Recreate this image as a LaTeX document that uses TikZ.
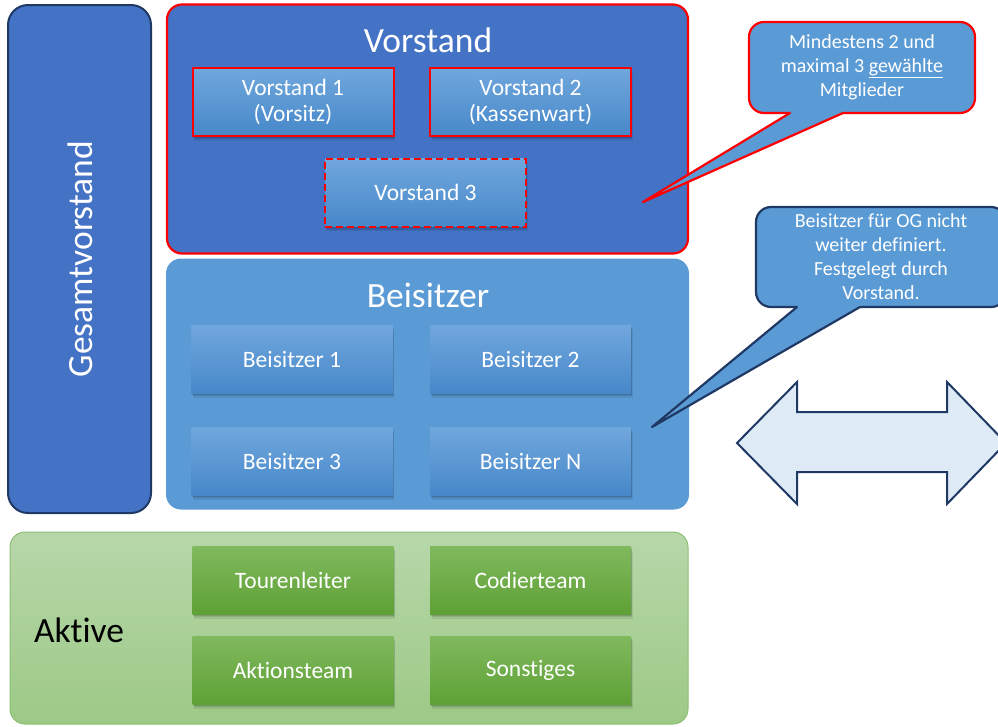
\documentclass[tikz,border=0pt]{standalone}
\usepackage{fontspec}
\setmainfont{Carlito}[Ligatures=NoCommon]
\definecolor{gvfill}{HTML}{4472C4}
\definecolor{gvline}{HTML}{203864}
\definecolor{bsfill}{HTML}{5B9BD5}
\definecolor{bxtop}{HTML}{70A7DD}
\definecolor{bxbot}{HTML}{4788C9}
\definecolor{grtop}{HTML}{B7D7AA}
\definecolor{grbot}{HTML}{9DC986}
\definecolor{grline}{HTML}{8CBF72}
\definecolor{gbtop}{HTML}{80B95E}
\definecolor{gbbot}{HTML}{5EA135}
\definecolor{arrfill}{HTML}{DEEBF7}
\definecolor{redline}{HTML}{FF0000}
\begin{document}
\begin{tikzpicture}[x=1pt,y=-1pt,
  bigtitle/.style={text=white,font=\fontsize{35.5}{40}\selectfont,inner sep=0},
  shad/.style={
    preaction={fill=black,fill opacity=.10,draw=none,transform canvas={xshift=0.5pt,yshift=-1.5pt}},
    preaction={fill=black,fill opacity=.10,draw=none,transform canvas={xshift=1pt,yshift=-3pt}},
    preaction={fill=black,fill opacity=.08,draw=none,transform canvas={xshift=1.5pt,yshift=-4.5pt}}},
  bluebox/.style={minimum width=201pt,minimum height=68pt,inner sep=0,top color=bxtop,bottom color=bxbot,
    text=white,align=center,font=\fontsize{23.5}{26}\selectfont,shad},
  redbox/.style={bluebox,draw=redline,line width=2pt},
  greenbox/.style={bluebox,top color=gbtop,bottom color=gbbot},
  callout/.style={rounded corners=15pt,fill=bsfill,line width=2.2pt,inner sep=0,text=white,align=center,
    font=\fontsize{20}{24}\selectfont},
]
\useasboundingbox (0,0) rectangle (998,726);

% Gesamtvorstand
\node[draw=gvline,line width=2pt,fill=gvfill,rounded corners=20pt,minimum width=143pt,minimum height=508pt,inner sep=0]
  (gv) at (79.5,259) {};
\node[bigtitle,rotate=90,anchor=base] (gvt) at (92,259) {Gesamtvorstand};

% Vorstand group
\node[draw=redline,line width=2.2pt,fill=gvfill,rounded corners=15pt,minimum width=521pt,minimum height=249pt,inner sep=0]
  (vg) at (427.5,129) {};
\node[bigtitle,anchor=base] (vgt) at (428,52) {Vorstand};
\node[redbox] (v1) at (293,102) {Vorstand 1\\(Vorsitz)};
\node[redbox] (v2) at (530.5,102) {Vorstand 2\\(Kassenwart)};
\node[redbox,dash pattern=on 7pt off 4pt] (v3) at (425.5,192.5) {Vorstand 3};

% Beisitzer group
\node[fill=bsfill,rounded corners=15pt,minimum width=523pt,minimum height=251pt,inner sep=0]
  (bg) at (427.5,384) {};
\node[bigtitle,anchor=base] (bgt) at (428,307) {Beisitzer};
\node[bluebox] (b1) at (292,359) {Beisitzer 1};
\node[bluebox] (b2) at (530.5,359) {Beisitzer 2};
\node[bluebox] (b3) at (292,461) {Beisitzer 3};
\node[bluebox] (bn) at (530.5,461) {Beisitzer N};

% Aktive group
\node[draw=grline,line width=1pt,top color=grtop,bottom color=grbot,rounded corners=15pt,minimum width=678pt,minimum height=192pt,inner sep=0]
  (ag) at (349,628) {};
\node[anchor=base,inner sep=0,font=\fontsize{35.5}{40}\selectfont,text=black] (agt) at (79,642) {Aktive};
\node[greenbox] (g1) at (293,580) {Tourenleiter};
\node[greenbox] (g2) at (530.5,580) {Codierteam};
\node[greenbox] (g3) at (293,670) {Aktionsteam};
\node[greenbox] (g4) at (530.5,670) {Sonstiges};

% Callout 1
\node[callout,draw=redline,minimum width=226pt,minimum height=91pt] (c1) at (862,67.5)
  {Mindestens 2 und\\maximal 3 \underline{gewählte}\\Mitglieder};
\coordinate (c1a) at (790,113);
\coordinate (c1b) at (843,113);
\coordinate (c1t) at (643,202);
\fill[bsfill] (790,110.5) -- (c1a) -- (c1t) -- (c1b) -- (843,110.5) -- cycle;
\draw[redline,line width=2.2pt,line join=round,line cap=round] (c1a) -- (c1t) -- (c1b);

% Callout 2
\node[callout,draw=gvline,minimum width=250pt,minimum height=100pt] (c2) at (881,257)
  {Beisitzer für OG nicht\\weiter definiert.\\Festgelegt durch\\Vorstand.};
\coordinate (c2a) at (797,307);
\coordinate (c2b) at (860,307);
\coordinate (c2t) at (652,427);
\fill[bsfill] (797,304.5) -- (c2a) -- (c2t) -- (c2b) -- (860,304.5) -- cycle;
\draw[gvline,line width=2.2pt,line join=round,line cap=round] (c2a) -- (c2t) -- (c2b);

% Double arrow
\draw[gvline,fill=arrfill,line width=2pt,line join=miter]
  (737,443) -- (797,382) -- (797,412) -- (947,412) -- (947,382) -- (1006,443)
  -- (947,504) -- (947,472) -- (797,472) -- (797,504) -- cycle;
\end{tikzpicture}
\end{document}
